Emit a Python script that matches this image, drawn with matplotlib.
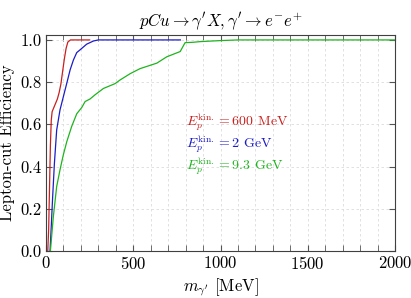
import matplotlib
matplotlib.use("Agg")
import matplotlib.pyplot as plt
from matplotlib.ticker import MultipleLocator

plt.rcParams['font.family'] = ['cmr10', 'DejaVu Serif']
plt.rcParams['mathtext.fontset'] = 'cm'
plt.rcParams['axes.formatter.use_mathtext'] = True

# Data
mass_600 = [10, 15, 20, 25, 30, 35, 45, 55, 65, 75, 85, 95, 105, 115, 125, 140, 250]
eff_600 = [0.0, 0.1, 0.3, 0.5, 0.62, 0.66, 0.68, 0.70, 0.72, 0.75, 0.79, 0.85, 0.91, 0.96, 0.99, 1.0, 1.0]

mass_2 = [23, 29, 38, 48, 61, 80, 99, 119, 138, 157, 176, 195, 233, 272, 300, 770]
eff_2 = [0.0, 0.1, 0.257, 0.415, 0.573, 0.668, 0.73, 0.795, 0.858, 0.905, 0.94, 0.953, 0.98, 0.995, 1.0, 1.0]

mass_93 = [25, 42, 61, 80, 99, 119, 147, 176, 205, 224, 252, 281, 329, 396, 424, 482,
           539, 635, 692, 769, 797, 845, 883, 1004, 1100, 2000]
eff_93 = [0.0, 0.163, 0.305, 0.384, 0.455, 0.518, 0.59, 0.65, 0.68, 0.708, 0.72, 0.74, 0.77,
          0.793, 0.81, 0.84, 0.864, 0.89, 0.92, 0.945, 0.987, 0.989, 0.992, 0.997, 1.0, 1.0]

labels = [r'$E_p^{\mathrm{kin.}} = 600$ MeV', r'$E_p^{\mathrm{kin.}} = 2$ GeV', r'$E_p^{\mathrm{kin.}} = 9.3$ GeV']
colors = ['#c8201e', '#1c1cc8', '#1eb41e']

fig = plt.figure(figsize=(4.11, 2.98), dpi=100)
ax = fig.add_axes([0.112, 0.158, 0.849, 0.725])

ax.grid(True, which='both', color='#dcdcdc', linestyle=(0, (3, 3)), linewidth=0.6)
ax.set_axisbelow(True)

for xs, ys, c in zip([mass_600, mass_2, mass_93], [eff_600, eff_2, eff_93], colors):
    ax.plot(xs, ys, color=c, linewidth=0.9)

ax.set_xlim(0, 2000)
ax.set_ylim(0, 1.024)
ax.xaxis.set_major_locator(MultipleLocator(500))
ax.xaxis.set_minor_locator(MultipleLocator(100))
ax.yaxis.set_major_locator(MultipleLocator(0.2))
ax.yaxis.set_major_formatter(matplotlib.ticker.FuncFormatter(lambda v, p: f'{v:.1f}'))
ax.tick_params(which='both', direction='in', top=True, right=True, color='#555555', labelsize=12, pad=3)
ax.tick_params(which='major', length=4)
ax.tick_params(which='minor', length=4)
for s in ax.spines.values():
    s.set_color('#404040')
    s.set_linewidth(0.8)

ax.set_xlabel(r"$m_{\gamma'}$ [MeV]", fontsize=12, labelpad=3)
ax.set_ylabel("Lepton-cut Efficiency", fontsize=12, labelpad=4)
ax.set_title(r"$pCu \to \gamma' X, \gamma' \to e^{-}e^{+}$", fontsize=12, pad=6)

for lab, c, yv in zip(labels, colors, [0.612, 0.508, 0.404]):
    ax.text(805, yv, lab, color=c, fontsize=10, va='center', ha='left')

fig.savefig('out.png', dpi=100)
